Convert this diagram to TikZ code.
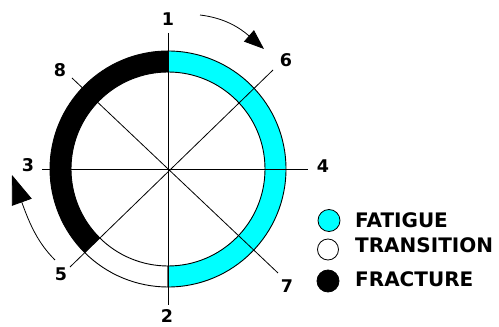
\documentclass[tikz,border=0pt]{standalone}
\usepackage{fontspec}
\setmainfont{DejaVu Sans}
\usetikzlibrary{arrows.meta}
\definecolor{fatiguecol}{HTML}{00FFFF}
\tikzset{
  band/.style={draw=black, line width=0.9pt},
  spoke/.style={draw=black, line width=0.8pt},
  num/.style={font=\fontsize{17.5}{17.5}\selectfont\bfseries, inner sep=0pt},
  legtext/.style={font=\fontsize{20}{20}\selectfont\bfseries, inner sep=0pt, anchor=west},
  legdot/.style={circle, draw=black, line width=0.8pt, minimum size=21pt, inner sep=0pt},
  turn/.style={draw=black, line width=0.8pt},
}
\begin{document}
\begin{tikzpicture}[x=1pt,y=1pt]
\useasboundingbox (0,0) rectangle (499,327);
\coordinate (C) at (168,158);
% bands
\path[band, fill=black] ([shift={(90:118)}]C) arc[start angle=90,end angle=225,radius=118]
  -- ([shift={(225:97)}]C) arc[start angle=225,end angle=90,radius=97] -- cycle;
\path[band, fill=white] ([shift={(225:118)}]C) arc[start angle=225,end angle=270,radius=118]
  -- ([shift={(270:97)}]C) arc[start angle=270,end angle=225,radius=97] -- cycle;
\path[band, fill=fatiguecol] ([shift={(-90:118)}]C) arc[start angle=-90,end angle=90,radius=118]
  -- ([shift={(90:97)}]C) arc[start angle=90,end angle=-90,radius=97] -- cycle;
% spokes
\coordinate (top) at (168,294);
\coordinate (bot) at (168,22);
\coordinate (lft) at (42,158);
\coordinate (rgt) at (308,158);
\coordinate (e6) at (273,257);
\coordinate (e8) at (72,249);
\coordinate (e5) at (70,60);
\coordinate (e7) at (278,54);
\draw[spoke] (top) -- (bot);
\draw[spoke] (lft) -- (rgt);
\draw[spoke] (e8) -- (e7);
\draw[spoke] (e5) -- (e6);
% labels
\node[num] (n1) at (168,307.5) {1};
\node[num] (n2) at (167,10.5) {2};
\node[num] (n3) at (28,162) {3};
\node[num] (n4) at (323,161) {4};
\node[num] (n5) at (61,53) {5};
\node[num] (n6) at (286,267) {6};
\node[num] (n7) at (287,41) {7};
\node[num] (n8) at (60,257) {8};
% rotation arrows
\coordinate (a1s) at (200,312);
\coordinate (a1e) at (264,278);
\coordinate (a2s) at (55,67);
\coordinate (a2e) at (12,152);
\draw[turn, -{Triangle[length=20pt,width=15pt]}] (a1s) .. controls (225,309) and (240,299) .. (a1e);
\draw[turn, -{Triangle[length=29pt,width=21pt]}] (a2s) .. controls (38,84) and (30,102) .. (a2e);
% legend
\node[legdot, fill=fatiguecol, minimum size=22pt] (d1) at (329,106.5) {};
\node[legdot, fill=white] (d2) at (328,77.5) {};
\node[legdot, fill=black, minimum size=22pt] (d3) at (328,46) {};
\node[legtext] (t1) at (355,107) {FATIGUE};
\node[legtext] (t2) at (355,81.5) {TRANSITION};
\node[legtext] (t3) at (355,47.5) {FRACTURE};
\end{tikzpicture}
\end{document}
